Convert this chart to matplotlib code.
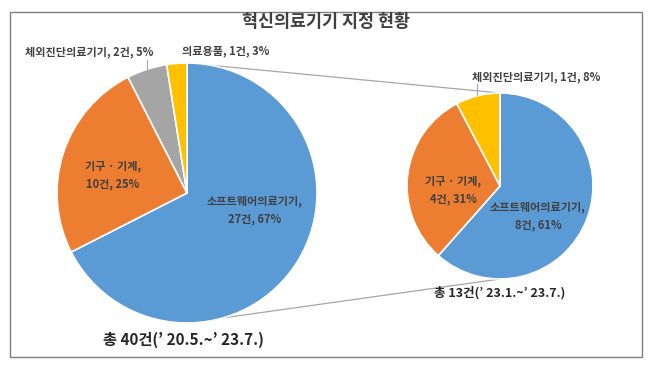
import matplotlib.pyplot as plt
from matplotlib.patches import Rectangle

plt.rcParams['font.family'] = ['Noto Sans CJK KR', 'DejaVu Sans']

# 전체 (20.5 ~ 23.7)
total_names = ["소프트웨어의료기기", "기구 · 기계", "체외진단의료기기", "의료용품"]
total_counts = [27, 10, 2, 1]
total_pcts = [67, 25, 5, 3]

# 2023년 (23.1 ~ 23.7)
recent_names = ["소프트웨어의료기기", "기구 · 기계", "체외진단의료기기"]
recent_counts = [8, 4, 1]
recent_pcts = [61, 31, 8]

total_colors = ["#5B9BD5", "#ED7D31", "#A5A5A5", "#FFC000"]
recent_colors = ["#5B9BD5", "#ED7D31", "#FFC000"]

W, H = 648, 367
fig = plt.figure(figsize=(W / 100, H / 100), dpi=100)
ax = fig.add_axes([0, 0, 1, 1])


def y(v):
    return H - v


big_c, big_r = (187, y(193)), 130
small_c, small_r = (500, y(186)), 93

wedge_style = dict(edgecolor="white", linewidth=1.2)
ax.pie(total_counts, colors=total_colors, startangle=90, counterclock=False,
       center=big_c, radius=big_r, wedgeprops=wedge_style, frame=True)
ax.pie(recent_counts, colors=recent_colors, startangle=90, counterclock=False,
       center=small_c, radius=small_r, wedgeprops=wedge_style, frame=True)
ax.set_xlim(0, W)
ax.set_ylim(0, H)
ax.set_aspect("equal")
ax.axis("off")

# 연결선
line_kw = dict(color="#A6A6A6", linewidth=0.9, zorder=0)
ax.plot([big_c[0], small_c[0]], [big_c[1] + big_r, small_c[1] + small_r], **line_kw)
ax.plot([big_c[0], small_c[0]], [big_c[1] - big_r, small_c[1] - small_r], **line_kw)

txt = dict(fontsize=8, color="#404040", fontweight="bold", ha="center", va="center")

# 큰 파이 라벨
ax.text(255, y(210), f"{total_names[0]},\n{total_counts[0]}건, {total_pcts[0]}%", linespacing=1.5, **txt)
ax.text(113, y(175), f"{total_names[1]},\n{total_counts[1]}건, {total_pcts[1]}%", linespacing=1.5, **txt)
ax.text(89, y(52), f"{total_names[2]}, {total_counts[2]}건, {total_pcts[2]}%", **txt)
ax.text(226, y(51), f"{total_names[3]}, {total_counts[3]}건, {total_pcts[3]}%", **txt)
ax.plot([147, 147], [y(60), y(70)], color="#A6A6A6", linewidth=0.8)

# 작은 파이 라벨
ax.text(538, y(216), f"{recent_names[0]},\n{recent_counts[0]}건, {recent_pcts[0]}%", linespacing=1.5, **txt)
ax.text(453, y(190), f"{recent_names[1]},\n{recent_counts[1]}건, {recent_pcts[1]}%", linespacing=1.5, **txt)
ax.text(536, y(77), f"{recent_names[2]}, {recent_counts[2]}건, {recent_pcts[2]}%", **txt)
ax.plot([477, 477], [y(84), y(95)], color="#A6A6A6", linewidth=0.8)

ax.text(500, y(293), "총 13건(’ 23.1.~’ 23.7.)", fontsize=9, color="#262626",
        fontweight="bold", ha="center", va="center")
ax.text(183, y(340), "총 40건(’ 20.5.~’ 23.7.)", fontsize=11, color="#262626",
        fontweight="bold", ha="center", va="center")

ax.text(326, y(22), "혁신의료기기 지정 현황", fontsize=12.5, color="#404040",
        fontweight="bold", ha="center", va="center")

ax.add_patch(Rectangle((10, y(357)), 632, 345, fill=False, edgecolor="#7F7F7F", linewidth=1))

fig.savefig("out.png", dpi=100)
